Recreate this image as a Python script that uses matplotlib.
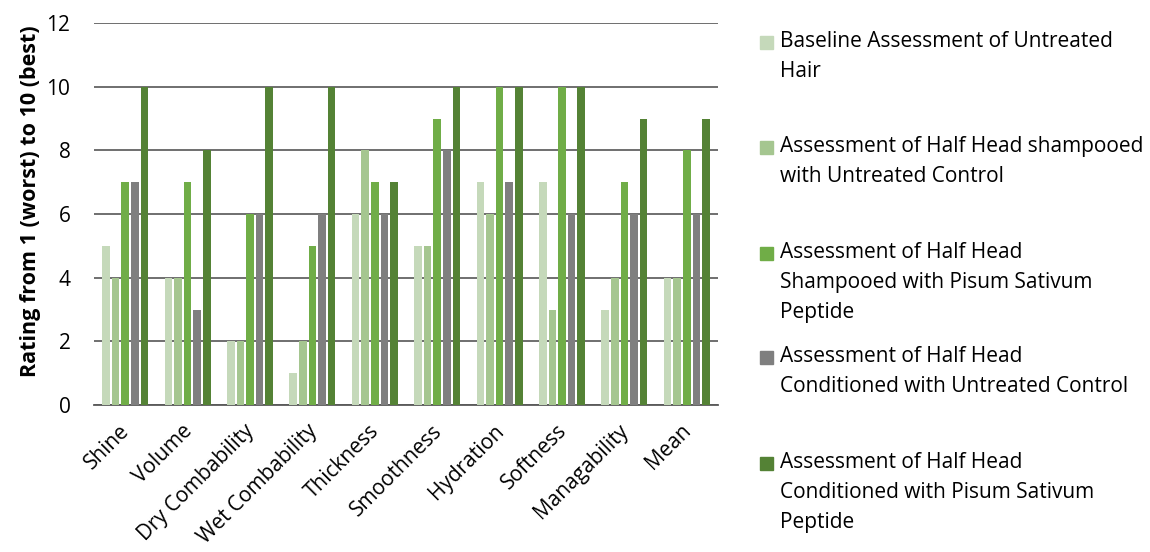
import numpy as np
import matplotlib.pyplot as plt
import matplotlib.transforms as mtransforms
from matplotlib.patches import Rectangle

plt.rcParams['font.family'] = ['Open Sans', 'DejaVu Sans']

categories = ['Shine', 'Volume', 'Dry Combability', 'Wet Combability', 'Thickness',
              'Smoothness', 'Hydration', 'Softness', 'Managability', 'Mean']
baseline = [5, 4, 2, 1, 6, 5, 7, 7, 3, 4]
shampoo_control = [4, 4, 2, 2, 8, 5, 6, 3, 4, 4]
shampoo_peptide = [7, 7, 6, 5, 7, 9, 10, 10, 7, 8]
cond_control = [7, 3, 6, 6, 6, 8, 7, 6, 6, 6]
cond_peptide = [10, 8, 10, 10, 7, 10, 10, 10, 9, 9]

series_names = [
    'Baseline Assessment of Untreated\nHair',
    'Assessment of Half Head shampooed\nwith Untreated Control',
    'Assessment of Half Head\nShampooed with Pisum Sativum\nPeptide',
    'Assessment of Half Head\nConditioned with Untreated Control',
    'Assessment of Half Head\nConditioned with Pisum Sativum\nPeptide',
]
colors = ['#C5D9BA', '#A5C690', '#70AD47', '#7F7F7F', '#548235']
series = [baseline, shampoo_control, shampoo_peptide, cond_control, cond_peptide]

W, H = 1150, 552
fig = plt.figure(figsize=(W / 100, H / 100), dpi=100)
ax = fig.add_axes([94 / W, 1 - 405 / H, (718 - 94) / W, (405 - 23) / H])

x = np.arange(len(categories))
pitch = 0.154
width = 0.12
for i, (vals, c) in enumerate(zip(series, colors)):
    ax.bar(x + (i - 2) * pitch, vals, width, color=c, zorder=3)

ax.set_xlim(-0.5, len(categories) - 0.5)
ax.set_ylim(0, 12)
ax.set_yticks(range(0, 13, 2))
ax.yaxis.grid(True, color='#636363', linewidth=1.3, zorder=0)
for s in ['top', 'right', 'left']:
    ax.spines[s].set_visible(False)
ax.spines['bottom'].set_color('#595959')
ax.spines['bottom'].set_linewidth(1.3)
ax.tick_params(axis='both', length=0, labelsize=15, colors='#000000')
ax.tick_params(axis='y', pad=17)
ax.set_xticks(x)
ax.set_xticklabels(categories, rotation=45, ha='right', rotation_mode='anchor')
ax.tick_params(axis='x', pad=11)
shift = mtransforms.ScaledTranslation(-6 / 100, 0, fig.dpi_scale_trans)
for lbl in ax.get_xticklabels():
    lbl.set_transform(lbl.get_transform() + shift)
ax.set_ylabel('Rating from 1 (worst) to 10 (best)', fontsize=15.5, fontweight='bold')
ax.yaxis.set_label_coords(-0.085, 0.533)

# legend entries drawn by hand to keep the uneven spacing
marker_tops = [36, 141, 247, 351, 457]
for name, c, top in zip(series_names, colors, marker_tops):
    fig.patches.append(Rectangle((760 / W, 1 - (top + 13) / H), 13 / W, 13 / H,
                                 transform=fig.transFigure, color=c))
    fig.text(780 / W, 1 - (top - 5) / H, name, fontsize=15, va='top', ha='left',
             linespacing=1.56)

fig.savefig('out.png', dpi=100)
